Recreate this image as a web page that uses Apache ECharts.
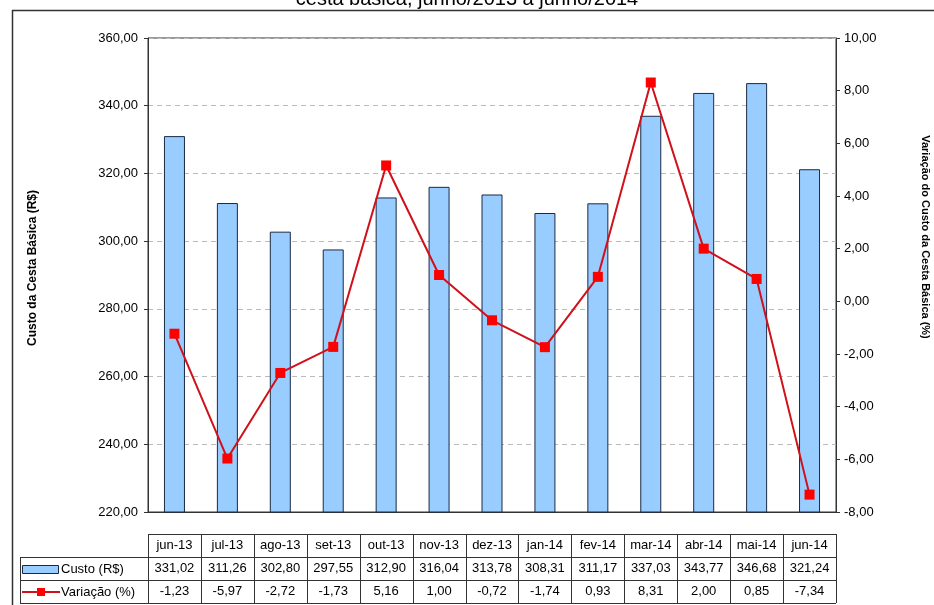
<!DOCTYPE html>
<html>
<head>
<meta charset="utf-8">
<script src="https://cdn.jsdelivr.net/npm/echarts@6/dist/echarts.min.js"></script>
<style>
  html, body { margin: 0; padding: 0; background: #fff; }
  #main { width: 934px; height: 605px; }
</style>
</head>
<body>
<div id="main"></div>
<script>
var meses = ['jun-13', 'jul-13', 'ago-13', 'set-13', 'out-13', 'nov-13', 'dez-13',
	'jan-14', 'fev-14', 'mar-14', 'abr-14', 'mai-14', 'jun-14'];
var custo = [331.02, 311.26, 302.80, 297.55, 312.90, 316.04, 313.78,
	308.31, 311.17, 337.03, 343.77, 346.68, 321.24];
var variacao = [-1.23, -5.97, -2.72, -1.73, 5.16, 1.00, -0.72,
	-1.74, 0.93, 8.31, 2.00, 0.85, -7.34];

var fonte = '"Liberation Sans", Arial, sans-serif';
function br(v) { return v.toFixed(2).replace('.', ','); }

var myChart = echarts.init(document.getElementById('main'));

// grid edges in px, reused for the data table under the chart
var gL = 148, gR = 836, gT = 38, gB = 512;
var colW = (gR - gL) / meses.length;
var rows = [534, 557, 580, 603];
var tabela = [];
rows.forEach(function (y, i) {
	tabela.push({ type: 'line', shape: { x1: i === 0 ? gL : 20, y1: y + 0.5, x2: gR, y2: y + 0.5 },
		style: { stroke: '#333', lineWidth: 1 } });
});
for (var i = 0; i <= meses.length; i++) {
	var x = Math.round(gL + i * colW) + 0.5;
	tabela.push({ type: 'line', shape: { x1: x, y1: rows[0], x2: x, y2: rows[3] },
		style: { stroke: '#333', lineWidth: 1 } });
}
tabela.push({ type: 'line', shape: { x1: 20.5, y1: rows[1], x2: 20.5, y2: rows[3] },
	style: { stroke: '#333', lineWidth: 1 } });

option = {
	backgroundColor: '#fff',
	title: {
		text: 'cesta básica, junho/2013 a junho/2014',
		left: 'center',
		top: -16,
		textStyle: { fontFamily: fonte, fontSize: 20, fontWeight: 'normal', color: '#000' }
	},
	grid: {
		left: gL,
		right: 934 - gR,
		top: gT,
		bottom: 605 - gB,
		show: true,
		borderColor: '#333',
		borderWidth: 1
	},
	xAxis: {
		type: 'category',
		data: meses,
		axisTick: { show: false },
		axisLine: { onZero: false, lineStyle: { color: '#333' } },
		axisLabel: {
			margin: 22,
			interval: 0,
			formatter: function (v, idx) {
				return '{a|' + v + '}\n{a|' + br(custo[idx]) + '}\n{a|' + br(variacao[idx]) + '}';
			},
			rich: {
				a: { fontFamily: fonte, fontSize: 13, color: '#000', lineHeight: 23 }
			}
		}
	},
	yAxis: [
		{
			type: 'value',
			min: 220,
			max: 360,
			interval: 20,
			axisLine: { show: true, lineStyle: { color: '#333' } },
			axisTick: { show: true, length: 4, lineStyle: { color: '#333' } },
			axisLabel: {
				margin: 10,
				fontFamily: fonte,
				fontSize: 13,
				color: '#000',
				formatter: br
			},
			splitLine: { lineStyle: { color: '#bbb', type: [5, 4] } }
		},
		{
			type: 'value',
			min: -8,
			max: 10,
			interval: 2,
			axisLine: { show: true, lineStyle: { color: '#333' } },
			axisTick: { show: true, length: 4, lineStyle: { color: '#333' } },
			axisLabel: {
				margin: 8,
				fontFamily: fonte,
				fontSize: 13,
				color: '#000',
				formatter: br
			},
			splitLine: { show: false }
		}
	],
	series: [
		{
			name: 'Custo (R$)',
			type: 'bar',
			data: custo,
			barWidth: 21,
			itemStyle: { color: '#99CCFF', borderColor: '#1a2a44', borderWidth: 1 }
		},
		{
			name: 'Variação (%)',
			type: 'line',
			yAxisIndex: 1,
			data: variacao,
			symbol: 'rect',
			symbolSize: 10,
			lineStyle: { color: '#d0101a', width: 2 },
			itemStyle: { color: '#ff0000' }
		}
	],
	graphic: tabela.concat([
		// chart frame (cropped)
		{ type: 'line', shape: { x1: 12.5, y1: 10, x2: 12.5, y2: 605 }, style: { stroke: '#333', lineWidth: 1.5 } },
		{ type: 'line', shape: { x1: 12, y1: 10.5, x2: 934, y2: 10.5 }, style: { stroke: '#333', lineWidth: 1.5 } },
		// axis names
		{ type: 'text', x: 33, y: 268, rotation: Math.PI / 2, style: {
			text: 'Custo da Cesta Básica (R$)', font: 'bold 12px ' + fonte, fill: '#000',
			textAlign: 'center', textVerticalAlign: 'middle' } },
		{ type: 'text', x: 925, y: 237, rotation: -Math.PI / 2, style: {
			text: 'Variação do Custo da Cesta Básica (%)', font: 'bold 11px ' + fonte, fill: '#000',
			textAlign: 'center', textVerticalAlign: 'middle' } },
		// legend keys in the table
		{ type: 'rect', shape: { x: 22.5, y: 565.5, width: 36, height: 8 },
			style: { fill: '#99CCFF', stroke: '#1a2a44', lineWidth: 1 } },
		{ type: 'text', x: 61, y: 569, style: { text: 'Custo (R$)', font: '13px ' + fonte, fill: '#000',
			textVerticalAlign: 'middle' } },
		{ type: 'line', shape: { x1: 22, y1: 592, x2: 60, y2: 592 }, style: { stroke: '#d0101a', lineWidth: 2 } },
		{ type: 'rect', shape: { x: 37, y: 588, width: 8, height: 8 }, style: { fill: '#ff0000' } },
		{ type: 'text', x: 61, y: 592, style: { text: 'Variação (%)', font: '13px ' + fonte, fill: '#000',
			textVerticalAlign: 'middle' } }
	])
};

myChart.setOption(option);
</script>
</body>
</html>
